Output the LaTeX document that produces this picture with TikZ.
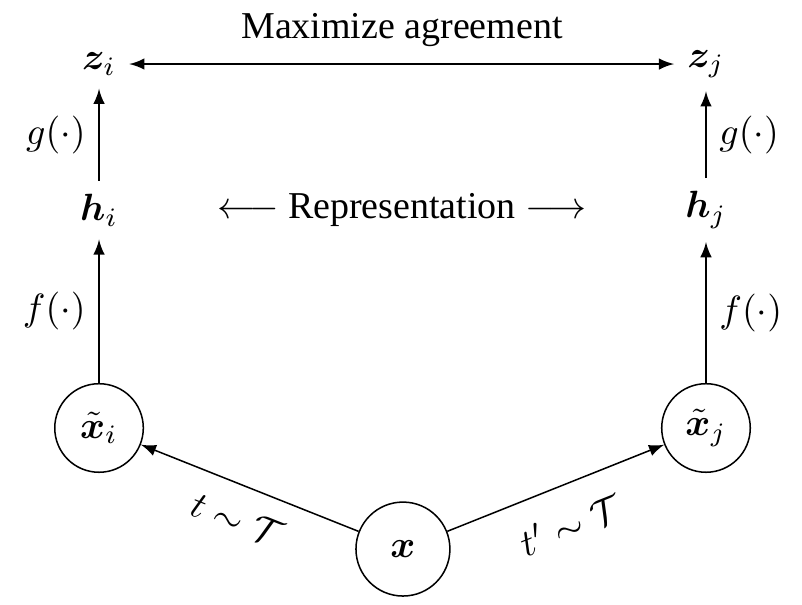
\documentclass[tikz,border=0pt]{standalone}
\usepackage{amsmath, amssymb}
\usepackage{bm}
\usepackage[no-math]{fontspec}
\setmainfont{Liberation Serif}
\tikzset{
	view/.style={draw, circle, minimum size=0.82cm, inner sep=0pt},
	flow/.style={-latex}
}

\begin{document}
\begin{tikzpicture}
		\useasboundingbox (0,0) rectangle (7.426, 5.593);

		\node[view, minimum size=0.87cm] (x) at (3.731, 0.509) {$\bm{x}$};
		\node[view] (xi) at (0.917, 1.630) {$\tilde{\bm{x}}_i$};
		\node[view] (xj) at (6.537, 1.630) {$\tilde{\bm{x}}_j$};

		\node (hi) at (0.917, 3.648) {$\bm{h}_i$};
		\node (hj) at (6.537, 3.648) {$\bm{h}_j$};
		\node (zi) at (0.917, 5.0) {$\bm{z}_i$};
		\node (zj) at (6.537, 5.0) {$\bm{z}_j$};

		\node (agree) at (3.722, 5.315) {Maximize agreement};
		\node (repr) at (3.722, 3.648) {$\longleftarrow$ Representation $\longrightarrow$};

		\draw[flow] (x) -- node[midway, sloped, below=2pt] {$t \sim \mathcal{T}$} (xi);
		\draw[flow] (x) -- node[midway, sloped, below=3pt] {$t^{\prime} \sim \mathcal{T}$} (xj);

		\draw[flow] (xi) -- node[left] {$f(\cdot)$} (hi);
		\draw[flow] (xj) -- node[right] {$f(\cdot)$} (hj);
		\draw[flow] (hi) -- node[left] {$g(\cdot)$} (zi);
		\draw[flow] (hj) -- node[right] {$g(\cdot)$} (zj);

		\draw[latex-latex] (zi) -- (zj);
	\end{tikzpicture}
\end{document}
